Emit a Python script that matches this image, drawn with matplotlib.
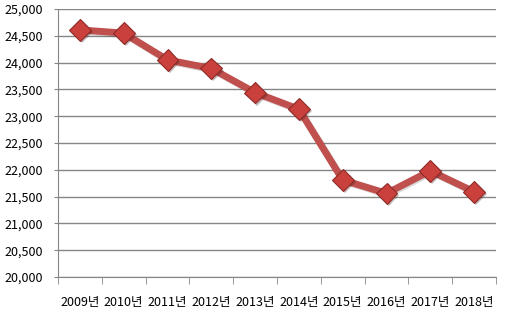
import matplotlib
matplotlib.use("Agg")
import matplotlib.pyplot as plt
import matplotlib.patheffects as pe
import numpy as np

plt.rcParams['font.family'] = ['Noto Sans CJK KR', 'DejaVu Sans']

# Data
years = ["2009년", "2010년", "2011년", "2012년", "2013년",
         "2014년", "2015년", "2016년", "2017년", "2018년"]
values = [24610, 24550, 24050, 23890, 23440, 23130, 21810, 21560, 21980, 21590]
yticks = [20000, 20500, 21000, 21500, 22000, 22500, 23000, 23500, 24000, 24500, 25000]

fig = plt.figure(figsize=(5.11, 3.16), dpi=100)
ax = fig.add_axes([58 / 511, 1 - 277 / 316, 438 / 511, 268 / 316])

x = np.arange(len(years))
shadow = [pe.SimpleLineShadow(offset=(1, -1), shadow_color='#000000', alpha=0.15),
          pe.Normal()]
ax.plot(x, values, color='#C0504D', linewidth=5, solid_capstyle='round',
        path_effects=shadow, zorder=3)
ax.plot(x, values, linestyle='none', marker='D', markersize=11,
        markerfacecolor='#C9403C', markeredgecolor='#8E2A27', markeredgewidth=0.8,
        path_effects=[pe.SimplePatchShadow(offset=(1.5, -1.5), alpha=0.3), pe.Normal()],
        zorder=4)

ax.set_xlim(-0.5, len(years) - 0.5)
ax.set_ylim(20000, 25000)
ax.set_yticks(yticks)
ax.set_yticklabels([f"{v:,}" for v in yticks], fontsize=9)
ax.yaxis.grid(True, color='#868686', linewidth=1)
ax.set_axisbelow(True)

ax.set_xticks(x)
ax.set_xticklabels(years, fontsize=9)
ax.set_xticks(np.arange(-0.5, len(years)), minor=True)
ax.tick_params(axis='x', which='major', length=0, pad=14)
ax.tick_params(axis='x', which='minor', length=5, color='#868686')
ax.tick_params(axis='y', length=3, color='#868686', pad=8)

for side in ['top', 'right']:
    ax.spines[side].set_visible(False)
for side in ['left', 'bottom']:
    ax.spines[side].set_color('#868686')

fig.savefig("out.png", dpi=100)
